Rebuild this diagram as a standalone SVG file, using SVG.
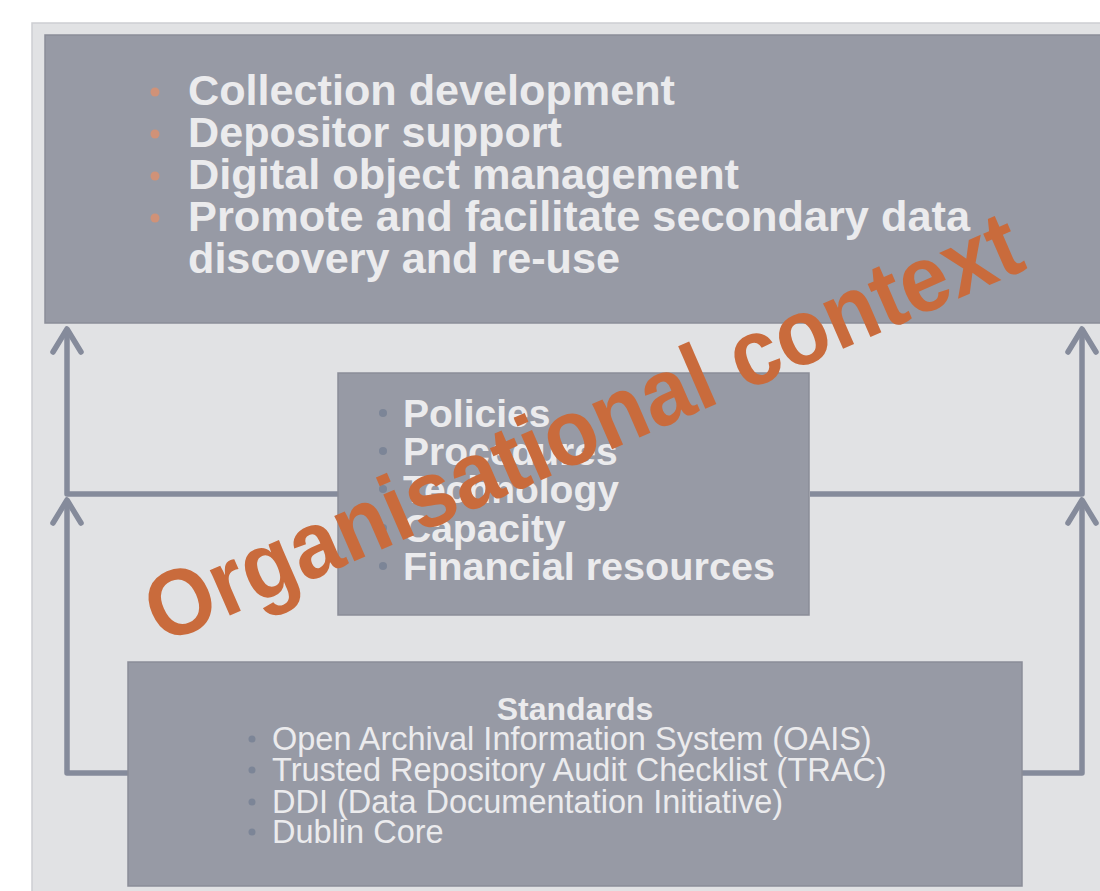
<svg xmlns="http://www.w3.org/2000/svg" width="1100" height="891" viewBox="0 0 1100 891">
<style>
.box{fill:#979aa5;stroke:#8a8d98;stroke-width:1.5}
.conn{fill:none;stroke:#858b9b;stroke-width:5.5;stroke-linejoin:round}
.tb{font-family:"Liberation Sans",Arial,sans-serif;font-weight:bold;fill:#ebebed}
.tr{font-family:"Liberation Sans",Arial,sans-serif;fill:#ebebed}
.bo{fill:#d09278}
.bg{fill:#7c8597}
.wm{font-family:"Liberation Sans",Arial,sans-serif;font-weight:bold;fill:#c96b3c}
</style>
<defs>
<marker id="chev" markerUnits="userSpaceOnUse" viewBox="-30 -20 36 40" refX="0" refY="0" markerWidth="36" markerHeight="40" orient="auto">
<path d="M-23,-14 L0,0 L-23,14" fill="none" stroke="#858b9b" stroke-width="5.5" stroke-linecap="round" stroke-linejoin="round"/>
</marker>
</defs>
<rect x="0" y="0" width="1100" height="891" fill="#ffffff"/>
<rect x="32" y="23" width="1080" height="880" fill="#e1e2e4" stroke="#cdced2" stroke-width="1.5"/>
<g id="connectors">
<path class="conn" d="M338,494 H67 V329" marker-end="url(#chev)"/>
<path class="conn" d="M128,773 H67 V500" marker-end="url(#chev)"/>
<path class="conn" d="M810,494 H1082 V329" marker-end="url(#chev)"/>
<path class="conn" d="M1022,773 H1082 V500" marker-end="url(#chev)"/>
</g>
<g id="activities">
<rect class="box" x="45" y="35" width="1070" height="288"/>
<circle class="bo" cx="155" cy="92" r="4.5"/>
<circle class="bo" cx="155" cy="134" r="4.5"/>
<circle class="bo" cx="155" cy="176" r="4.5"/>
<circle class="bo" cx="155" cy="218" r="4.5"/>
<text class="tb" font-size="42" x="188" y="105" textLength="487" lengthAdjust="spacingAndGlyphs">Collection development</text>
<text class="tb" font-size="42" x="188" y="147" textLength="374" lengthAdjust="spacingAndGlyphs">Depositor support</text>
<text class="tb" font-size="42" x="188" y="189" textLength="551" lengthAdjust="spacingAndGlyphs">Digital object management</text>
<text class="tb" font-size="42" x="188" y="231" textLength="782" lengthAdjust="spacingAndGlyphs">Promote and facilitate secondary data</text>
<text class="tb" font-size="42" x="188" y="273" textLength="432" lengthAdjust="spacingAndGlyphs">discovery and re-use</text>
</g>
<g id="resources">
<rect class="box" x="338" y="373" width="471" height="242"/>
<circle class="bg" cx="383" cy="413" r="4"/>
<circle class="bg" cx="383" cy="451" r="4"/>
<circle class="bg" cx="383" cy="489" r="4"/>
<circle class="bg" cx="383" cy="528" r="4"/>
<circle class="bg" cx="383" cy="566" r="4"/>
<text class="tb" font-size="39" x="403" y="427">Policies</text>
<text class="tb" font-size="39" x="403" y="465">Procedures</text>
<text class="tb" font-size="39" x="403" y="503">Technology</text>
<text class="tb" font-size="39" x="403" y="542">Capacity</text>
<text class="tb" font-size="39" x="403" y="580" textLength="372" lengthAdjust="spacingAndGlyphs">Financial resources</text>
</g>
<g id="standards">
<rect class="box" x="128" y="662" width="894" height="224"/>
<text class="tb" font-size="32" x="575" y="720" text-anchor="middle">Standards</text>
<circle class="bg" cx="252" cy="739" r="3.5"/>
<circle class="bg" cx="252" cy="770" r="3.5"/>
<circle class="bg" cx="252" cy="802" r="3.5"/>
<circle class="bg" cx="252" cy="832" r="3.5"/>
<text class="tr" font-size="32.5" x="272" y="750">Open Archival Information System (OAIS)</text>
<text class="tr" font-size="32.5" x="272" y="781">Trusted Repository Audit Checklist (TRAC)</text>
<text class="tr" font-size="32.5" x="272" y="813">DDI (Data Documentation Initiative)</text>
<text class="tr" font-size="32.5" x="272" y="843">Dublin Core</text>
</g>
<g id="watermark">
<text class="wm" font-size="94" x="162" y="645" transform="rotate(-23.5 162 645)" textLength="945" lengthAdjust="spacingAndGlyphs">Organisational context</text>
</g>
</svg>
